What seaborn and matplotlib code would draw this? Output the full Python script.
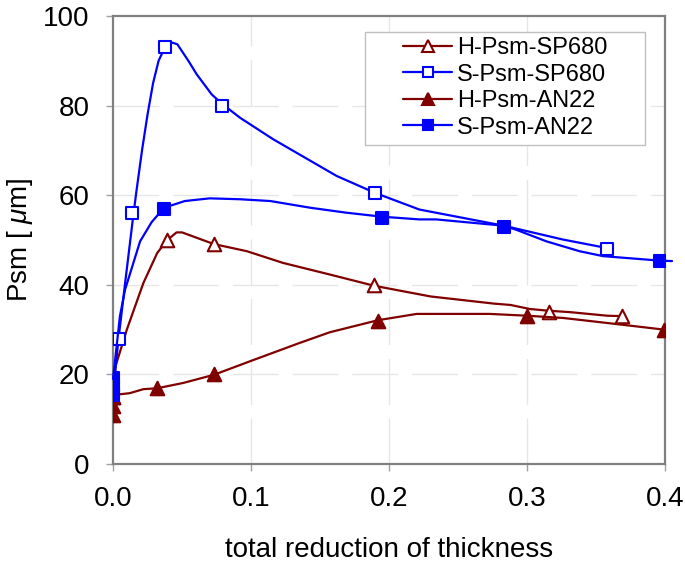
import pandas as pd
import seaborn as sns
import numpy as np
import matplotlib.pyplot as plt
from matplotlib.lines import Line2D
from matplotlib.patches import Rectangle

# measured points (markers)
h_sp680_x = [0.0, 0.039, 0.073, 0.189, 0.316, 0.369]
h_sp680_y = [15, 50, 49, 40, 34, 33]
s_sp680_x = [0.0, 0.004, 0.014, 0.038, 0.079, 0.190, 0.358]
s_sp680_y = [16, 28, 56, 93, 80, 60.5, 48]
h_an22_x = [0.0, 0.0, 0.0, 0.032, 0.073, 0.192, 0.300, 0.399]
h_an22_y = [11, 13, 15, 17, 20, 32, 33, 30]
s_an22_x = [0.0, 0.0, 0.0, 0.037, 0.195, 0.283, 0.396]
s_an22_y = [15.5, 17.5, 19.3, 57, 55, 53, 45.3]

# smoothed curves
h_sp680_cx = [0.0, 0.002, 0.010, 0.022, 0.032, 0.039, 0.046, 0.050, 0.073, 0.097,
              0.123, 0.157, 0.189, 0.230, 0.276, 0.288, 0.302, 0.316, 0.331, 0.358, 0.369]
h_sp680_cy = [17, 22, 30, 40.4, 47.1, 49.9, 51.7, 51.7, 49.1, 47.5,
              44.9, 42.3, 39.8, 37.4, 35.8, 35.5, 34.6, 34.2, 33.9, 33.1, 33]
s_sp680_cx = [0.0, 0.004, 0.009, 0.0145, 0.017, 0.021, 0.025, 0.029, 0.033, 0.038,
              0.0425, 0.0466, 0.0546, 0.0606, 0.0715, 0.079, 0.092, 0.116, 0.162,
              0.190, 0.222, 0.283, 0.326, 0.358]
s_sp680_cy = [16, 28, 41, 55, 61, 70, 78, 85, 90, 93.3,
              94.1, 93.7, 90, 87, 82.5, 80.4, 77.3, 72.5, 64.3,
              60.5, 56.8, 53.2, 50.1, 48.2]
h_an22_cx = [0.0, 0.012, 0.022, 0.032, 0.051, 0.073, 0.099, 0.135, 0.157, 0.192,
             0.220, 0.273, 0.300, 0.326, 0.363, 0.399]
h_an22_cy = [15.4, 15.8, 16.7, 16.9, 18.1, 19.9, 22.9, 27, 29.4, 32.1,
             33.5, 33.5, 33.1, 32.6, 31.3, 30]
s_an22_cx = [0.0, 0.005, 0.0087, 0.0196, 0.028, 0.037, 0.052, 0.070, 0.092, 0.114,
             0.143, 0.169, 0.195, 0.222, 0.234, 0.283, 0.292, 0.314, 0.338, 0.355,
             0.396, 0.405]
s_an22_cy = [19, 33, 38.9, 49.7, 54, 57.2, 58.7, 59.3, 59.1, 58.7,
             57.2, 56.1, 55.2, 54.6, 54.6, 53.2, 52.3, 49.7, 47.5, 46.4,
             45.4, 45.3]

labels = ["H-Psm-SP680", "S-Psm-SP680", "H-Psm-AN22", "S-Psm-AN22"]
dark_red = "#800000"
blue = "#0000ff"

sns.set_theme(style="white")
plt.rcParams['font.family'] = ['Liberation Sans', 'DejaVu Sans']
plt.rcParams['mathtext.fontset'] = 'custom'
plt.rcParams['mathtext.it'] = 'Liberation Sans:italic'
plt.rcParams['mathtext.rm'] = 'Liberation Sans'
plt.rcParams['text.color'] = 'black'
plt.rcParams['axes.labelcolor'] = 'black'

fig = plt.figure(figsize=(6.85, 5.67), dpi=100)
ax = fig.add_axes([0.165, 0.1817, 0.806, 0.790])

# grid
for gx in [0.1, 0.2, 0.3]:
    ax.axvline(gx, color="#e6e6e6", lw=1, dashes=(33, 10), zorder=0)
for gy in [20, 40, 60, 80]:
    ax.axhline(gy, color="#e6e6e6", lw=1, dashes=(33, 10), zorder=0)

series = [
    (h_sp680_cx, h_sp680_cy, h_sp680_x, h_sp680_y, dark_red, "^", True),
    (s_sp680_cx, s_sp680_cy, s_sp680_x, s_sp680_y, blue, "s", True),
    (h_an22_cx, h_an22_cy, h_an22_x, h_an22_y, dark_red, "^", False),
    (s_an22_cx, s_an22_cy, s_an22_x, s_an22_y, blue, "s", False),
]
handles = []
for i, (cx, cy, mx, my, col, mk, hollow) in enumerate(series):
    sns.lineplot(x=cx, y=cy, ax=ax, color=col, lw=1.6, sort=False,
                 estimator=None, zorder=2 + i)
    size = 95 if mk == "^" else 70
    sns.scatterplot(x=mx, y=my, ax=ax, marker=mk, s=size,
                    facecolor="white" if hollow else col, edgecolor=col,
                    linewidth=1.5, zorder=2.5 + i)
    handles.append(Line2D([], [], color=col, lw=1.6, marker=mk,
                          markersize=8 if mk == "^" else 7,
                          markerfacecolor="white" if hollow else col,
                          markeredgecolor=col, markeredgewidth=1.5))
ax.lines[-1].set_clip_on(False)

ax.set_xlim(0, 0.4)
ax.set_ylim(0, 100)
ax.set_xticks([0, 0.1, 0.2, 0.3, 0.4])
ax.set_xticklabels(["0.0", "0.1", "0.2", "0.3", "0.4"])
ax.set_yticks([0, 20, 40, 60, 80, 100])
ax.tick_params(axis="both", labelsize=20, length=5, width=1, color="#a0a0a0",
               labelcolor="black", direction="out", bottom=True, left=True, pad=11)
ax.tick_params(axis="y", pad=12)
for s in ax.spines.values():
    s.set_color("#808080")
    s.set_linewidth(1.6)
    s.set_visible(True)

ax.set_xlabel("total reduction of thickness", fontsize=20, labelpad=18)
ax.set_ylabel("Psm [ $\\mu$m]", fontsize=20, labelpad=6)

# legend box drawn like the original (wide white frame, centred content)
ax.add_patch(Rectangle((0.4565, 0.712), 0.507, 0.252, transform=ax.transAxes,
                       facecolor="white", edgecolor="#c0c0c0", lw=1, zorder=1.5))
leg = ax.legend(handles, labels, loc="upper left", bbox_to_anchor=(0.525, 0.953),
                borderaxespad=0, fontsize=17, handlelength=2.1, handletextpad=0.2,
                labelspacing=0.19, borderpad=0, frameon=False)

fig.savefig("out.png", dpi=100)
